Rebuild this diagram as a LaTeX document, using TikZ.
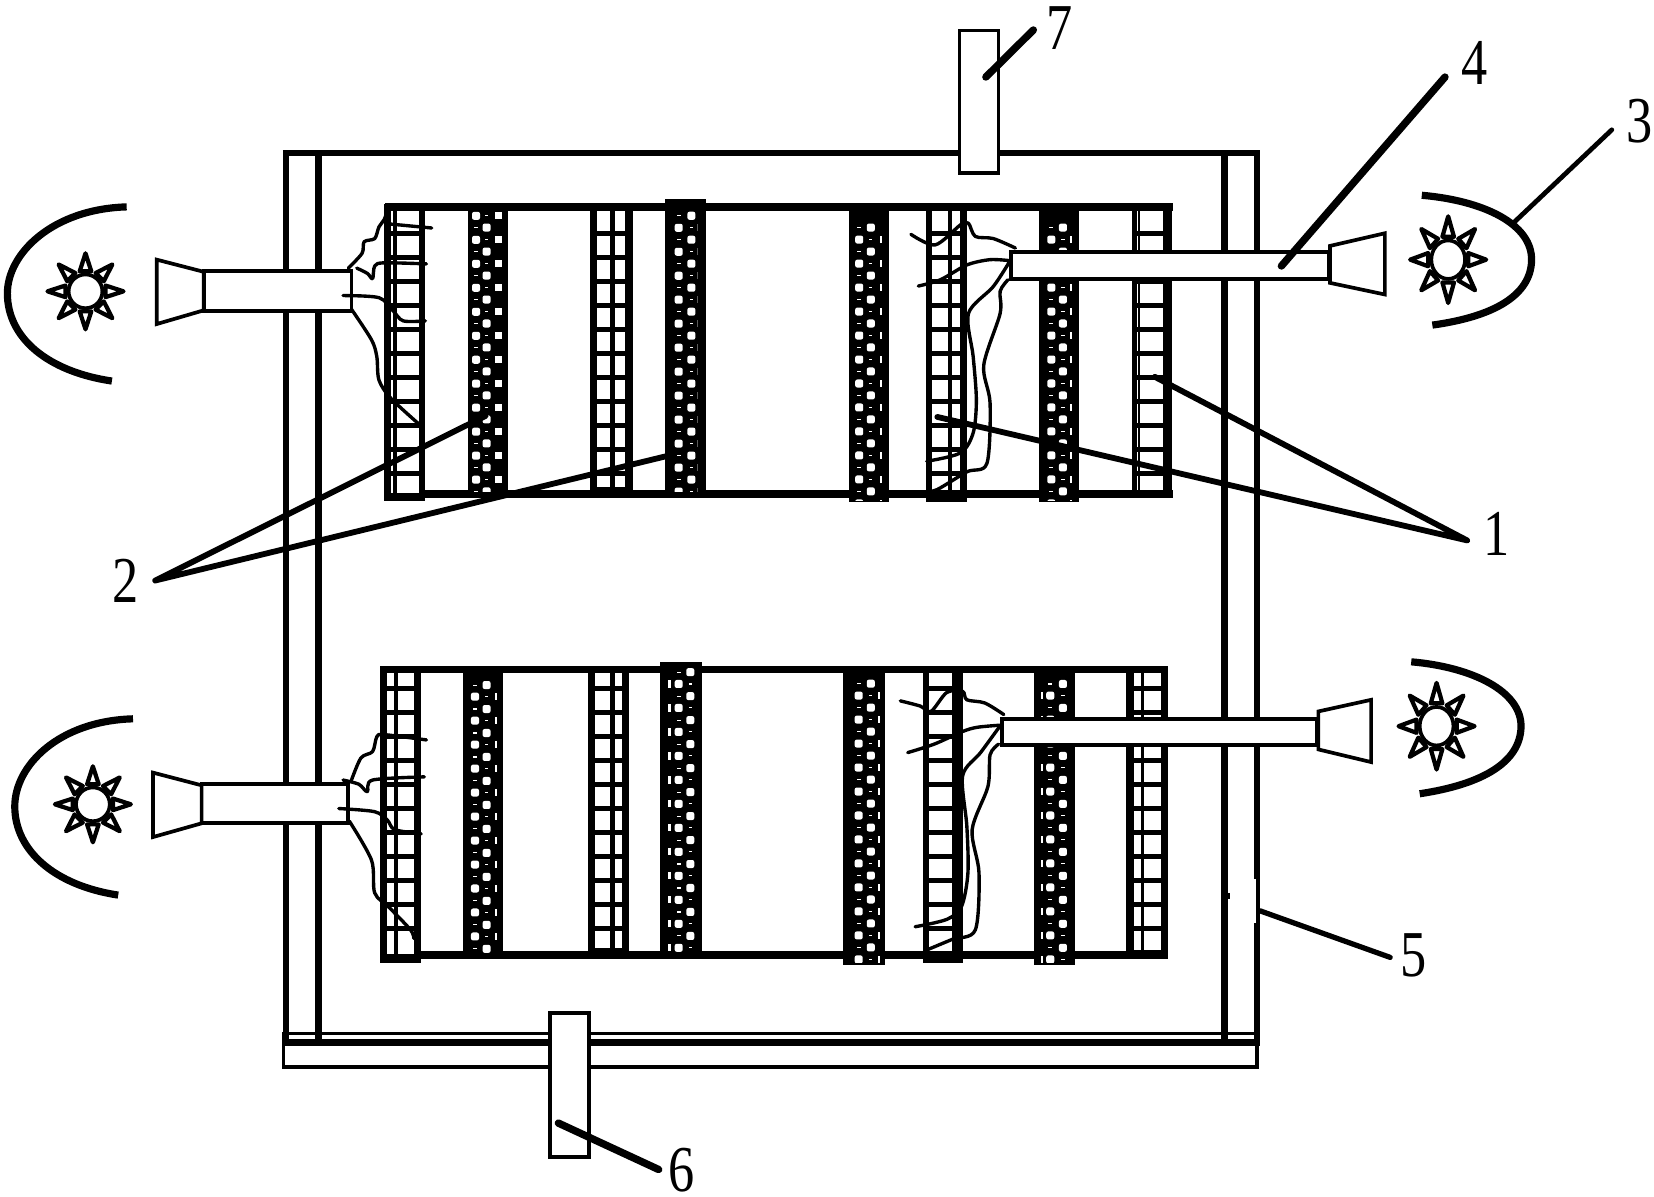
\documentclass[tikz,border=0pt]{standalone}
\usepackage{fontspec}
\setmainfont{Liberation Serif}
\tikzset{
  pen/.style={draw=black,line width=#1*0.5pt,line join=miter},
  pen/.default=3,
  wire/.style={draw=black,line width=1.6pt,line cap=round,line join=round},
  leader/.style={draw=black,line width=#1*0.5pt,line cap=round},
  reflector/.style={draw=black,line width=3.4pt},
  lab/.style={font=\fontsize{31}{31}\selectfont,inner sep=0pt,text=black},
  solidbox/.style={pen=3.5,fill=white}
}
% x1 x2 ytop ybot y0 leftw rightw inner-list(x/w)
\newcommand\gridcol[8]{%
  \fill[black] (#1,#3) rectangle ({#1+#6},#4);
  \fill[black] ({#2-#7},#3) rectangle (#2,#4);
  \fill[black] (#1,{#4-8}) rectangle (#2,#4);
  \foreach \xi/\wi in {#8}{\fill[black] ({\xi-\wi/2},#3) rectangle ({\xi+\wi/2},#4);}
  \foreach \k in {0,...,10}{\fill[black] (#1,{#5+\k*22.75-2}) rectangle (#2,{#5+\k*22.75+2.2});}
}
% x1 x2 ytop ybot xL yL xC yC xR/wR
\newcommand\dotcol[9]{%
  \fill[black] (#1,#3) rectangle (#2,#4);
  \begin{scope}
    \clip (#1,#3) rectangle (#2,{#4-2});
    \foreach \k in {0,...,11}{
      \fill[white,rounded corners=1pt] ({#5-3.8},{#6+\k*22.72-3.8}) rectangle ++(7.6,7.6);
      \fill[white,rounded corners=1pt] ({#7-3.8},{#8+\k*22.72-3.8}) rectangle ++(7.6,7.6);
      \fill[white] ({#5-2},{#8+\k*22.72-.5}) rectangle ++(4,1);
      \fill[white] ({#7-1.5},{#6+\k*22.72-.5}) rectangle ++(3,1);
      \foreach \xr/\wr in {#9}{\fill[white] ({\xr-\wr/2},{#6+\k*22.72-3.4}) rectangle ++(\wr,6.8);}
    }
  \end{scope}
}
\newcommand\sunmark[4]{%
  \begin{scope}[shift={(#1,#2)},yscale=#4]
    \foreach \a in {0,45,...,315}{
      \draw[pen=4,fill=white,line join=round,rotate=\a] (19,-5.5)--(36,0)--(19,5.5)--cycle;
    }
    \draw[pen=3.5,fill=white] (0,0) circle [radius=#3*0.5pt];
  \end{scope}
}
\begin{document}
\begin{tikzpicture}[x=0.5pt,y=-0.5pt]
\useasboundingbox (0,0) rectangle (1567,1134);
\fill[white] (0,0) rectangle (1567,1134);

% frame
\draw[pen=6] (271,145)--(271,987);
\draw[pen=6.5] (302,145)--(302,987);
\draw[pen=6] (1160,145)--(1160,987);
\draw[pen=6] (1191,145)--(1191,987);
\draw[pen=6] (268,145)--(1194,145);
\draw[pen=3.5] (268.5,979) rectangle (1191,1011);
\draw[pen=6] (268,987.5)--(1194,987.5);
\fill[white] (1187.5,833) rectangle (1189.5,874);
\fill[black] (1163,846) rectangle (1165,852);

% upper rack
\fill[black] (365,192.6) rectangle (1111,200);
\fill[black] (400,464.5) rectangle (1111,472);
\gridcol{364}{403}{193}{475}{221}{6.5}{6}{374/4}
\gridcol{559}{600}{197}{469}{221}{7}{8}{580/5}
\gridcol{877}{916}{197}{476}{221}{6.3}{6.3}{900/3}
\gridcol{1072}{1110}{197}{472}{221}{5.5}{8.5}{1079/2}
\dotcol{443}{481}{197}{468}{451}{204.5}{461}{215.6}{472/7}
\dotcol{630}{669}{188.6}{468}{643}{215.8}{655}{204.4}{660/0.01}
\dotcol{804}{842}{197}{476}{814}{227}{825}{215.6}{835/2}
\dotcol{984}{1022}{197}{476}{996}{227}{1007}{215.6}{1015/2}

% lower rack
\fill[black] (361,630.6) rectangle (1107,638);
\fill[black] (398,901) rectangle (1107,909);
\gridcol{360}{398.5}{631}{912}{652}{7}{6.5}{375.5/4}
\gridcol{557}{596}{635}{906}{652}{6.5}{7}{580/5}
\gridcol{874}{912}{635}{912}{652}{6}{6}{904/4}
\gridcol{1067}{1107}{635}{908}{652}{7}{7}{1082/3}
\dotcol{439}{477}{635}{907}{450}{660}{461}{649}{470/2}
\dotcol{625}{665}{627}{908}{643}{648}{654}{636.8}{634/3}
\dotcol{799}{838.6}{635}{914}{813.5}{659}{825}{647.7}{833/2}
\dotcol{980}{1018}{635}{914}{995}{659}{1007}{648}{987/2}

% tubes and funnels
\draw[solidbox] (193,257) rectangle (333,294.5);
\draw[solidbox] (148.5,246)--(193,257.5)--(193,294)--(148.5,307)--cycle;
\draw[solidbox] (958,239) rectangle (1259,264.5);
\draw[solidbox] (1260,233)--(1312,221)--(1312,279)--(1260,268)--cycle;
\draw[solidbox] (191,743) rectangle (330,780);
\draw[solidbox] (145,732)--(191,744)--(191,780)--(145,793)--cycle;
\draw[solidbox] (949,681) rectangle (1248,705.5);
\draw[solidbox] (1249,674)--(1299,663)--(1299,722)--(1249,710)--cycle;

% reflectors
\draw[reflector] (120,196) .. controls (50,198) and (7,240) .. (7,278) .. controls (7,320) and (45,352) .. (106,361);
\draw[reflector] (1347,185) .. controls (1405,190) and (1452,212) .. (1451,247) .. controls (1450,280) and (1415,300) .. (1357,308);
\draw[reflector] (126,681) .. controls (56,683) and (14,725) .. (14,764) .. controls (14,806) and (52,839) .. (112,848);
\draw[reflector] (1337,627) .. controls (1395,632) and (1442,655) .. (1441,689) .. controls (1440,722) and (1405,743) .. (1345,752);

% lamps
\sunmark{81}{276}{16}{1}
\sunmark{1372}{246}{16}{1.14}
\sunmark{88}{762}{16}{1}
\sunmark{1361}{688}{16}{1.14}

% wires, upper left
\draw[wire] plot[smooth,tension=.5] coordinates {(330,254)(343,240)(345,229)(355,226)(359,215)(364,208)(367,199)};
\draw[wire] (367,212)--(409,216);
\draw[wire] plot[smooth,tension=.5] coordinates {(338,254)(348,259)(353,264)(355,252)(364,249)(404,250)};
\draw[wire] plot[smooth,tension=.5] coordinates {(325,280)(359,282)(372,294)(382,304)(403,304)};
\draw[wire] plot[smooth,tension=.5] coordinates {(333,293)(352,322)(357,338)(359,360)(370,377)(396,401)};
% wires, lower left
\draw[wire] plot[smooth,tension=.5] coordinates {(333,739)(342,718)(353,712)(357,698)(364,696)(404,701)};
\draw[wire] plot[smooth,tension=.5] coordinates {(325,739)(340,743)(348,750)(353,739)(402,736)};
\draw[wire] plot[smooth,tension=.5] coordinates {(321,766)(355,769)(367,777)(374,786)(399,790)};
\draw[wire] plot[smooth,tension=.5] coordinates {(331,778)(352,815)(355,846)(369,860)(389,881)(392,889)};
% wires, upper right
\draw[wire] plot[smooth,tension=.5] coordinates {(863,222)(886,232)(910,213)(917.5,211.5)(924,224)(941,226)(962,235)};
\draw[wire] plot[smooth,tension=.5] coordinates {(870,271)(891,265)(916,251)(938,246)(957,247)};
\draw[wire] plot[smooth,tension=.5] coordinates {(957,247)(941,271.5)(917.5,297)(922,338)(925,379)(922,410)(910,429)(878,437)};
\draw[wire] plot[smooth,tension=.5] coordinates {(955,265)(947.5,276)(947.5,297)(932,346)(938,382)(935,439)(916,447)(887.5,464)(875,466)};
% wires, lower right
\draw[wire] plot[smooth,tension=.5] coordinates {(853,664)(872,669)(882,674)(897,656)(912,655)(916,663)(933,666)(951,677)};
\draw[wire] plot[smooth,tension=.5] coordinates {(860,713)(885,705)(912,693)(926,689)(948,687)};
\draw[wire] plot[smooth,tension=.5] coordinates {(948,687)(929,713)(912,735)(916,783)(917,827)(911,858.6)(897,871)(867,878)};
\draw[wire] plot[smooth,tension=.5] coordinates {(946,705)(938,715)(936,745)(921,786)(927.5,827)(924,881)(902,890)(878,900)};

% sliding blocks
\draw[solidbox] (909,29) rectangle (946,164);
\draw[solidbox] (521,960) rectangle (558,1096);

% labels
\node[lab] (n1) at (1418,506) {\scalebox{.8}[1]{1}};
\node[lab] (n2) at (119,550) {\scalebox{.8}[1]{2}};
\node[lab] (n3) at (1553,115) {\scalebox{.8}[1]{3}};
\node[lab] (n4) at (1397,60) {\scalebox{.8}[1]{4}};
\node[lab] (n5) at (1339,905) {\scalebox{.8}[1]{5}};
\node[lab] (n6) at (646,1109) {\scalebox{.8}[1]{6}};
\node[lab] (n7) at (1004,27) {\scalebox{.8}[1]{7}};

% leaders
\coordinate (a1) at (1390,512);
\coordinate (t1a) at (1094,357);
\coordinate (t1b) at (888,395);
\coordinate (a2) at (147,550);
\coordinate (t2a) at (460,394);
\coordinate (t2b) at (632,432);
\coordinate (a3) at (1527,123);
\coordinate (t3) at (1434,211);
\coordinate (a4) at (1369,73);
\coordinate (t4) at (1214,252);
\coordinate (a5) at (1317,907);
\coordinate (t5) at (1194,863);
\coordinate (a6) at (624,1108);
\coordinate (t6) at (529,1064);
\coordinate (a7) at (979,28.4);
\coordinate (t7) at (934,73);
\draw[leader=5.5] (a1)--(t1a) (a1)--(t1b);
\draw[leader=5.5] (a2)--(t2a) (a2)--(t2b);
\draw[leader=4.5] (a3)--(t3);
\draw[leader=7] (a4)--(t4);
\draw[leader=5] (a5)--(t5);
\draw[leader=7] (a6)--(t6);
\draw[leader=7] (a7)--(t7);
\end{tikzpicture}
\end{document}
